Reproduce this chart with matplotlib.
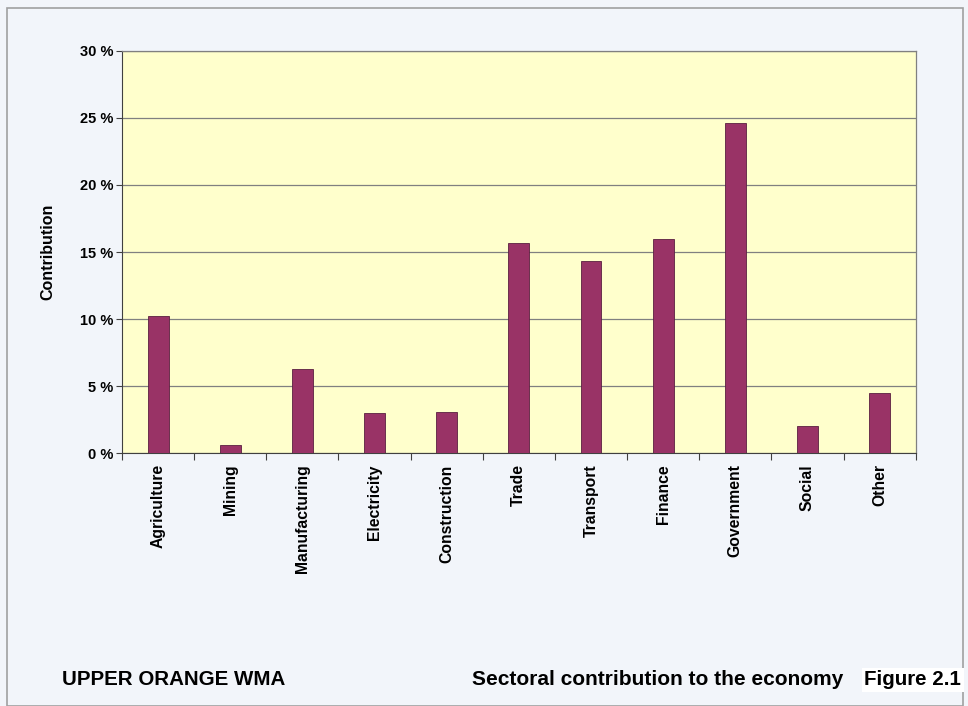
import numpy as np
import matplotlib.pyplot as plt
from matplotlib.patches import Rectangle

sectors = ["Agriculture", "Mining", "Manufacturing", "Electricity", "Construction",
           "Trade", "Transport", "Finance", "Government", "Social", "Other"]
contribution = [10.2, 0.6, 6.3, 3.0, 3.1, 15.7, 14.3, 16.0, 24.6, 2.0, 4.5]
yticks = [0, 5, 10, 15, 20, 25, 30]

plt.rcParams["font.family"] = ["Liberation Sans", "DejaVu Sans"]

fig = plt.figure(figsize=(9.68, 7.06), dpi=100, facecolor="#f2f5fa")
fig.patches.append(Rectangle((0.007, 0.0), 0.988, 0.988, transform=fig.transFigure,
                             fill=False, edgecolor="#a0a0a0", linewidth=1.2))

ax = fig.add_axes([0.126, 0.358, 0.820, 0.570])
ax.set_facecolor("#ffffcc")

x = np.arange(len(sectors))
ax.bar(x, contribution, width=0.29, color="#993366", edgecolor="#5a2040",
       linewidth=0.6, zorder=3)

ax.set_xlim(-0.5, len(sectors) - 0.5)
ax.set_ylim(0, 30)
ax.set_yticks(yticks)
ax.set_yticklabels([f"{t} %" for t in yticks], fontsize=10.5, fontweight="bold")
ax.yaxis.grid(True, color="#808080", linewidth=0.9, zorder=1)
ax.tick_params(axis="y", length=4, width=0.8, color="#404040", pad=2)

# category labels centred, ticks on boundaries
ax.set_xticks(x)
ax.set_xticklabels(sectors, rotation=90, fontsize=11.3, fontweight="bold", va="top")
ax.tick_params(axis="x", which="major", length=0, pad=8)
ax.set_xticks(np.arange(len(sectors) + 1) - 0.5, minor=True)
ax.tick_params(axis="x", which="minor", length=5, width=0.8, color="#404040")

for s in ["top", "right"]:
    ax.spines[s].set_color("#808080")
    ax.spines[s].set_linewidth(0.9)
ax.spines["left"].set_color("#404040")
ax.spines["bottom"].set_color("#404040")

ax.set_ylabel("Contribution", fontsize=11.5, fontweight="bold", labelpad=18)

fig.text(0.064, 0.037, "UPPER ORANGE WMA", fontsize=14.8, fontweight="bold", va="center")
fig.text(0.488, 0.037, "Sectoral contribution to the economy", fontsize=15,
         fontweight="bold", va="center")
fig.text(0.893, 0.037, "Figure 2.1", fontsize=14.8, fontweight="bold", va="center",
         bbox=dict(facecolor="white", edgecolor="none", pad=2))

plt.savefig("out.png", dpi=100, facecolor=fig.get_facecolor())
